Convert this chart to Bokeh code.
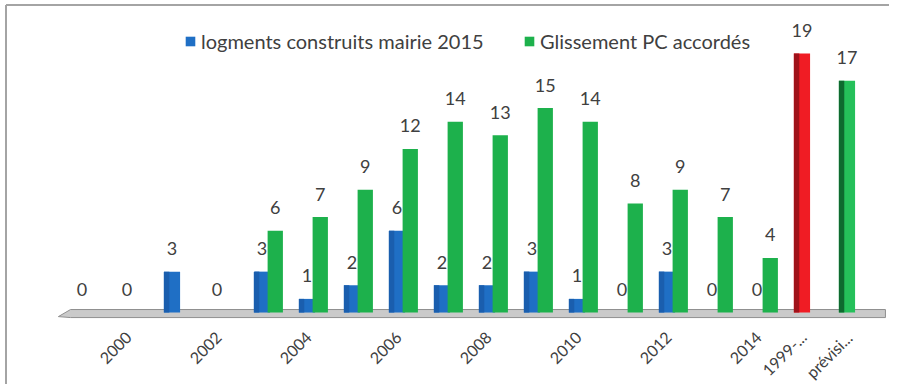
import math
from bokeh.plotting import figure
from bokeh.models import Range1d, ColumnDataSource, Legend, LegendItem
from bokeh.core.properties import value
from bokeh.embed import file_html
from bokeh.resources import INLINE

# ---- data -------------------------------------------------------------
categories = ["1999", "2000", "2001", "2002", "2003", "2004", "2005", "2006",
              "2007", "2008", "2009", "2010", "2011", "2012", "2013", "2014",
              "1999-...", "prévisi..."]
tick_labels = ["", "2000", "", "2002", "", "2004", "", "2006", "", "2008",
               "", "2010", "", "2012", "", "2014", "1999-...", "prévisi..."]
logements = [0, 0, 3, 0, 3, 1, 2, 6, 2, 2, 3, 1, 0, 3, 0, 0, 19, 17]
glissement = [None, None, None, None, 6, 7, 9, 12, 14, 13, 15, 14, 8, 9, 7, 4, None, None]
series_names = ["logments construits mairie 2015", "Glissement PC accordés"]

# ---- styles -----------------------------------------------------------
BLUE, GREEN, RED, LGREEN = "#1f6fc5", "#1db14c", "#f01c24", "#25c05a"
blue_fill = [BLUE] * 16 + [RED, LGREEN]
blue_side = ["#1a5eae"] * 16 + ["#a0121a", "#0e6a2f"]
TXT = "#404040"
FONT = "Lato"

n = len(categories)
idx = list(range(n))
off_b, off_g = -0.145, 0.15
w_b, w_g = 0.36, 0.34

X0, X1 = -1.956, 17.8
Y0, Y1 = -5.28, 22.89
PXX = (X1 - X0) / 889.0   # data units per pixel
PXY = (Y1 - Y0) / 384.0

p = figure(width=889, height=384, output_backend="svg", toolbar_location=None,
           x_range=Range1d(X0, X1), y_range=Range1d(Y0, Y1),
           min_border=0, x_axis_type=None, y_axis_type=None)
p.xgrid.visible = False
p.ygrid.visible = False
p.outline_line_color = None
p.background_fill_color = "white"

# chart frame (left and top edges)
fl, ft = X0 + 5.5 * PXX, Y1 - 4.5 * PXY
p.multi_line(xs=[[fl, fl], [fl, X1]], ys=[[Y0, ft], [ft, ft]], line_color="#a4a4a4", line_width=2)

# floor
fx = [-0.67, -0.4, n - 0.29, n - 0.29, -0.4]
fy = [-0.3, 0.22, 0.22, -0.37, -0.37]
p.patch(fx, fy, fill_color="#cacaca", line_color="#8f8f8f", line_width=1)

# blue series (with coloured special points)
src_b = ColumnDataSource(dict(x=[i + off_b for i in idx], top=logements, color=blue_fill,
                              side=blue_side,
                              sx=[i + off_b - w_b / 2 + 0.06 for i in idx]))
rb = p.vbar(x="x", top="top", bottom=0, width=w_b, fill_color="color", line_color=None, source=src_b)
p.vbar(x="sx", top="top", bottom=0, width=0.12, fill_color="side", line_color=None, source=src_b)

# green series
gx = [i + off_g for i, v in zip(idx, glissement) if v is not None]
gv = [v for v in glissement if v is not None]
src_g = ColumnDataSource(dict(x=gx, top=gv))
rg = p.vbar(x="x", top="top", bottom=0, width=w_g, fill_color=GREEN, line_color=None, source=src_g)

# data labels
gap = 1.69
p.text(x=[i + off_b for i in idx], y=[v + gap for v in logements], text=[str(v) for v in logements],
       text_font=value(FONT), text_font_size="18px", text_color=TXT,
       text_align="center", text_baseline="alphabetic")
p.text(x=gx, y=[v + gap for v in gv], text=[str(v) for v in gv],
       text_font=value(FONT), text_font_size="18px", text_color=TXT,
       text_align="center", text_baseline="alphabetic")

# category tick labels (rotated)
tl_x = [i - 0.1 for i, t in zip(idx, tick_labels) if t]
tl_t = [t for t in tick_labels if t]
p.text(x=tl_x, y=[-1.63] * len(tl_x), text=tl_t, angle=math.pi / 4,
       text_font=value(FONT), text_font_size="16px", text_color=TXT,
       text_align="right", text_baseline="middle")

# legends (one per item, to place them as in the reference)
for r, name, xloc, ind in [(rb, series_names[0], 184, 0), (rg, series_names[1], 523, None)]:
    item = LegendItem(label=name, renderers=[r], index=ind) if ind is not None else LegendItem(label=name, renderers=[r])
    lg = Legend(items=[item], location=(xloc, 331), orientation="horizontal",
                glyph_width=12, glyph_height=12, label_standoff=5,
                label_text_font=FONT, label_text_font_size="20px", label_text_color=TXT,
                padding=0, margin=0, border_line_color=None, background_fill_alpha=0)
    p.add_layout(lg, "center")

open("out.html", "w").write(file_html(p, INLINE))
